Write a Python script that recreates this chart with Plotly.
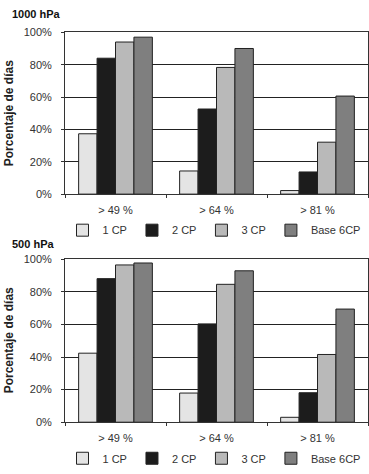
import plotly.graph_objects as go

categories = ["> 49 %", "> 64 %", "> 81 %"]
series_names = ["1 CP", "2 CP", "3 CP", "Base 6CP"]
colors = ["#e4e4e4", "#1c1c1c", "#b9b9b9", "#7f7f7f"]

vals_1000 = {
    "1 CP": [37.3, 14.3, 2.2],
    "2 CP": [84.0, 52.6, 13.7],
    "3 CP": [94.0, 78.3, 32.1],
    "Base 6CP": [97.0, 90.0, 60.6],
}
vals_500 = {
    "1 CP": [42.4, 17.9, 3.0],
    "2 CP": [88.2, 60.4, 18.1],
    "3 CP": [96.6, 84.7, 41.6],
    "Base 6CP": [97.8, 93.0, 69.5],
}
y_ticks = [0, 20, 40, 60, 80, 100]
y_ticklabels = ["0%", "20%", "40%", "60%", "80%", "100%"]
titles = ["1000 hPa", "500 hPa"]
ytitle = "Porcentaje de días"

W, H = 369, 474
fig = go.Figure()

for i, (vals, xa, ya, lg) in enumerate([(vals_1000, "x", "y", "legend"), (vals_500, "x2", "y2", "legend2")]):
    for name, col in zip(series_names, colors):
        fig.add_trace(go.Bar(
            x=categories, y=vals[name], name=name, xaxis=xa, yaxis=ya, legend=lg,
            marker=dict(color=col, line=dict(color="#222222", width=1)),
        ))

txt = "#333333"
axis_common = dict(showline=True, linecolor="#333333", linewidth=1, mirror=True,
                   tickfont=dict(family="Arial, Liberation Sans", size=11, color=txt))
xdom = [65 / W, 368 / W]
leg_common = dict(orientation="h", xanchor="center", yanchor="middle",
                  font=dict(size=11, color=txt, family="Arial, Liberation Sans"),
                  itemwidth=30, bgcolor="rgba(0,0,0,0)", tracegroupgap=0)
xcommon = dict(type="category", ticks="outside", ticklen=3, tickson="boundaries",
               tickcolor="#333333", showgrid=False, ticklabelstandoff=6, **axis_common)
ycommon = dict(range=[0, 100], tickvals=y_ticks, ticktext=y_ticklabels, ticks="outside", ticklen=3,
               tickcolor="#333333", showgrid=True, gridcolor="#222222", gridwidth=1,
               zeroline=False, ticklabelstandoff=7, **axis_common)
fig.update_layout(
    width=W, height=H, margin=dict(l=0, r=0, t=0, b=0),
    paper_bgcolor="white", plot_bgcolor="white",
    barmode="group", bargap=0.27, bargroupgap=0,
    showlegend=True,
    font=dict(family="Arial, Liberation Sans", color=txt),
    xaxis=dict(domain=xdom, anchor="y", **xcommon),
    yaxis=dict(domain=[(H - 193) / H, (H - 27) / H], anchor="x", **ycommon),
    xaxis2=dict(domain=xdom, anchor="y2", **xcommon),
    yaxis2=dict(domain=[(H - 427) / H, (H - 260) / H], anchor="x2", **ycommon),
    legend=dict(x=214 / W, y=(H - 230) / H, **leg_common),
    legend2=dict(x=214 / W, y=(H - 464) / H, **leg_common),
)

# panel titles and y-axis titles
for t, ty, cy in [(titles[0], 8, 110), (titles[1], 244, 343)]:
    fig.add_annotation(text="<b>" + t + "</b>", xref="paper", yref="paper", x=10 / W, y=(H - ty) / H,
                       xanchor="left", yanchor="middle", showarrow=False,
                       font=dict(size=11, color="#111111", family="Arial, Liberation Sans"))
    fig.add_annotation(text="<b>" + ytitle + "</b>", xref="paper", yref="paper", x=9 / W, y=(H - cy) / H,
                       xanchor="center", yanchor="middle", showarrow=False, textangle=-90,
                       font=dict(size=12, color="#222222", family="Arial, Liberation Sans"))

fig.write_html("out.html")
